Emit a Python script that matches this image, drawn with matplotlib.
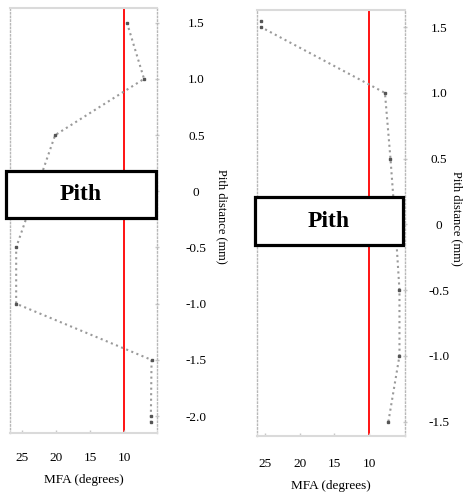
import matplotlib
matplotlib.use("Agg")
import matplotlib.pyplot as plt
import matplotlib.transforms as mtransforms
from matplotlib.patches import Rectangle

plt.rcParams['font.family'] = ['Liberation Serif', 'DejaVu Serif']

# data (pith distance in mm, MFA in degrees)
dist_left = [1.5, 1.0, 0.5, -0.5, -1.0, -1.5, -2.0, -2.05]
mfa_left = [9.6, 7.1, 20.1, 25.8, 25.8, 6.0, 6.1, 6.1]

dist_right = [1.55, 1.5, 1.0, 0.5, 0.0, -0.5, -1.0, -1.5]
mfa_right = [25.6, 25.6, 7.7, 6.9, 6.2, 5.6, 5.6, 7.2]

xticks = [25, 20, 15, 10]
yticks_left = [1.5, 1.0, 0.5, 0, -0.5, -1.0, -1.5, -2.0]
yticks_right = [1.5, 1.0, 0.5, 0, -0.5, -1.0, -1.5]
threshold = 10

fig = plt.figure(figsize=(4.70, 4.97), dpi=100)
ax1 = fig.add_axes([0.0213, 0.1288, 0.3128, 0.855])
ax2 = fig.add_axes([0.5468, 0.1227, 0.3149, 0.857])


def draw_panel(ax, dist, mfa, yticks, xlim, ylim, box_x, box_y, lab_pad, ylab_x, xpad, xlab_pad):
    ax.plot(mfa, dist, linestyle=':', color='#9a9a9a', lw=1.5, zorder=2)
    ax.plot(mfa, dist, linestyle='none', marker='s', ms=1.6, color='#555555', zorder=3)
    ax.axvline(threshold, color='red', lw=1.3, zorder=1)
    ax.set_xlim(xlim)
    ax.set_ylim(ylim)

    ax.set_xticks(xticks)
    ax.set_xticklabels([str(t) for t in xticks])
    ax.set_yticks(yticks)
    ax.set_yticklabels(['0' if t == 0 else ('%.1f' % t) for t in yticks])
    ax.yaxis.tick_right()
    ax.tick_params(axis='both', colors='#c8c8c8', labelcolor='black', labelsize=9.5, length=2.5, width=1)
    ax.tick_params(axis='x', pad=xpad, direction='in')
    ax.tick_params(axis='y', pad=lab_pad, direction='inout')
    for lab in ax.get_yticklabels():
        lab.set_horizontalalignment('center')

    for side in ['top', 'bottom']:
        ax.spines[side].set_color('#dadada')
        ax.spines[side].set_linewidth(1.5)
    for side in ['left', 'right']:
        ax.spines[side].set_color('#b8b8b8')
        ax.spines[side].set_linestyle(':')
        ax.spines[side].set_linewidth(1.0)

    ax.set_xlabel('MFA (degrees)', fontsize=9.5, labelpad=xlab_pad)
    ax.yaxis.set_label_position('right')
    ax.set_ylabel('Pith distance (mm)', fontsize=9, rotation=270)
    ax.yaxis.set_label_coords(ylab_x, 0.51)

    # Pith box
    trans = mtransforms.blended_transform_factory(ax.transAxes, ax.transData)
    rect = Rectangle((box_x[0], box_y[1]), box_x[1] - box_x[0], box_y[0] - box_y[1],
                     transform=trans, facecolor='white', edgecolor='black',
                     lw=2.3, clip_on=False, zorder=5)
    ax.add_patch(rect)
    ax.text((box_x[0] + box_x[1]) / 2, (box_y[0] + box_y[1]) / 2, 'Pith', transform=trans,
            ha='center', va='center', fontsize=17, fontweight='bold', zorder=6)


draw_panel(ax1, dist_left, mfa_left, yticks_left, (26.7, 5.2), (-2.15, 1.63),
           (-0.027, 0.993), (0.18, -0.24), 27, 1.48, 14, 7)
draw_panel(ax2, dist_right, mfa_right, yticks_right, (26.2, 4.8), (-1.61, 1.63),
           (-0.014, 0.986), (0.205, -0.16), 23, 1.39, 16, 7)

fig.savefig('out.png', dpi=100)
